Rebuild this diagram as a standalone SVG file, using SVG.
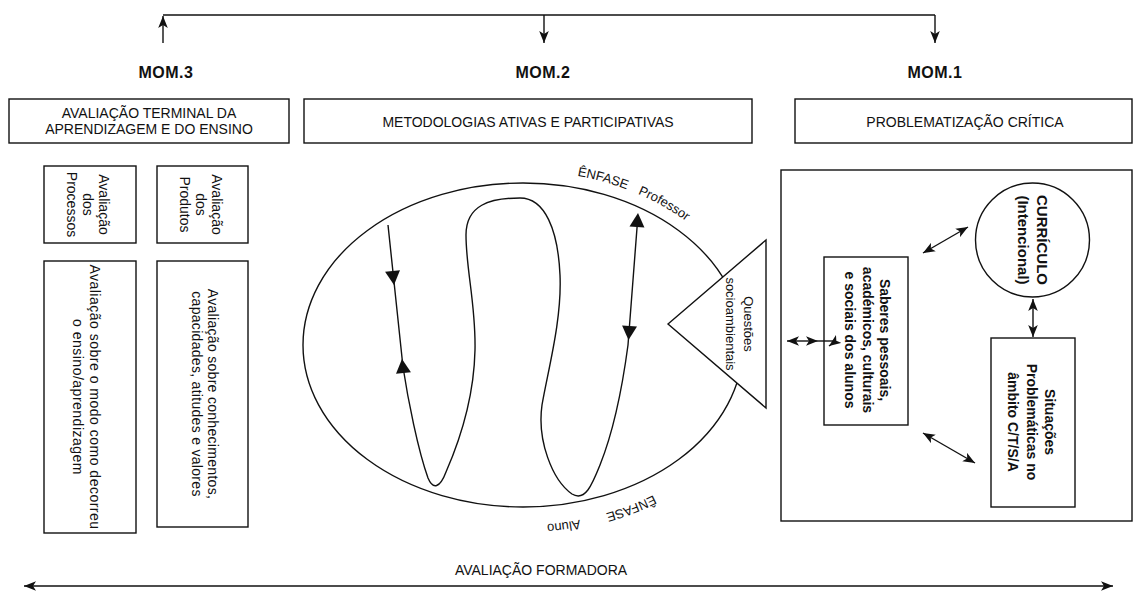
<svg xmlns="http://www.w3.org/2000/svg" width="1134" height="591" viewBox="0 0 1134 591">
<style>
.box{fill:#fff;stroke:#111;stroke-width:1.4}
.frame{fill:none;stroke:#111;stroke-width:1.4}
.ln{fill:none;stroke:#111;stroke-width:1.4}
.tri{fill:#fff;stroke:#111;stroke-width:1.4}
.t{font-family:"Liberation Sans",Arial,sans-serif;fill:#111}
.h{font-size:14px}
.mom{font-size:16px;font-weight:bold;letter-spacing:0.5px}
.r14{font-size:14px}
.r13{font-size:13px}
.b14{font-size:14px;font-weight:bold}
.b15{font-size:15px;font-weight:bold}
</style>
<defs>
<marker id="a" viewBox="0 0 10 8" refX="10" refY="4" markerWidth="12" markerHeight="10" markerUnits="userSpaceOnUse" orient="auto-start-reverse">
<path d="M0,0 L10,4 L0,8 L2.5,4 Z" fill="#111"/>
</marker>
<path id="bh" d="M0,0 L-14,-7.5 L-14,7.5 Z" fill="#111"/>
<path id="topArc" d="M291,345 A232,174 0 0 1 755,345"/>
<path id="botArc" d="M759,345 A236,180 0 0 1 287,345"/>
</defs>
<rect width="1134" height="591" fill="#fff"/>

<g id="mom3"><text class="t mom" x="166" y="78" text-anchor="middle">MOM.3</text></g>
<g id="mom2"><text class="t mom" x="543" y="78" text-anchor="middle">MOM.2</text></g>
<g id="mom1"><text class="t mom" x="935" y="78" text-anchor="middle">MOM.1</text></g>

<g id="hdr-avaliacao">
<rect class="box" x="9" y="99" width="280" height="44"/>
<text class="t h" text-anchor="middle"><tspan x="149" y="118">AVALIAÇÃO TERMINAL DA</tspan><tspan x="149" y="134">APRENDIZAGEM E DO ENSINO</tspan></text>
</g>
<g id="hdr-metodologias">
<rect class="box" x="304" y="99" width="448" height="44"/>
<text class="t h" x="528" y="127" text-anchor="middle">METODOLOGIAS ATIVAS E PARTICIPATIVAS</text>
</g>
<g id="hdr-problematizacao">
<rect class="box" x="795" y="99" width="337" height="44"/>
<text class="t h" x="965" y="127" text-anchor="middle">PROBLEMATIZAÇÃO CRÍTICA</text>
</g>

<g id="av-processos">
<rect class="box" x="44" y="166" width="92" height="77"/>
<text class="t r14" transform="translate(90,204.5) rotate(90)" text-anchor="middle"><tspan x="0" y="-9">Avaliação</tspan><tspan x="0" y="7">dos</tspan><tspan x="0" y="23">Processos</tspan></text>
</g>
<g id="av-produtos">
<rect class="box" x="157" y="166" width="91" height="77"/>
<text class="t r14" transform="translate(202.5,204.5) rotate(90)" text-anchor="middle"><tspan x="0" y="-9">Avaliação</tspan><tspan x="0" y="7">dos</tspan><tspan x="0" y="23">Produtos</tspan></text>
</g>
<g id="av-modo">
<rect class="box" x="44" y="261" width="92" height="272"/>
<text class="t r14" transform="translate(90,397) rotate(90)" text-anchor="middle" letter-spacing="0.5"><tspan x="0" y="0">Avaliação sobre o modo como decorreu</tspan><tspan x="0" y="17">o ensino/aprendizagem</tspan></text>
</g>
<g id="av-conhecimentos">
<rect class="box" x="157" y="261" width="91" height="266"/>
<text class="t r14" transform="translate(202.5,394) rotate(90)" text-anchor="middle" letter-spacing="0.3"><tspan x="0" y="-5.5">Avaliação sobre conhecimentos,</tspan><tspan x="0" y="10.5">capacidades, atitudes e valores</tspan></text>
</g>

<g id="peixe">
<ellipse class="ln" cx="523" cy="345" rx="220" ry="162"/>
<path class="ln" d="M388,225 L403,367 C408,400 418,450 428,478 C433,490 440,488 446,472 C460,440 474,395 475,350 C476,305 466,270 466,235 C466,205 490,198 520,198 C545,198 558,230 560,275 C562,320 548,370 542,405 C537,440 552,480 572,494 C585,502 592,485 600,465 C612,435 622,390 628,345 L638,215"/>
<use href="#bh" transform="translate(394,285) rotate(84)"/>
<use href="#bh" transform="translate(402,359) rotate(-96)"/>
<use href="#bh" transform="translate(628.5,340) rotate(94.3)"/>
<use href="#bh" transform="translate(638,213) rotate(-85.7)"/>
<text class="t r13"><textPath href="#topArc" startOffset="375">ÊNFASE</textPath></text>
<text class="t r13"><textPath href="#topArc" startOffset="438">Professor</textPath></text>
<text class="t r13"><textPath href="#botArc" startOffset="193">ÊNFASE</textPath></text>
<text class="t r13"><textPath href="#botArc" startOffset="271">Aluno</textPath></text>
</g>
<g id="questoes">
<path class="tri" d="M668,324 L766,240 L766,408 Z"/>
<text class="t r13" transform="translate(739,324) rotate(90)" text-anchor="middle"><tspan x="0" y="-4.5">Questões</tspan><tspan x="0" y="13.5">socioambientais</tspan></text>
</g>

<g id="problematizacao-area">
<rect class="frame" x="781" y="170" width="351" height="351"/>
</g>
<g id="curriculo">
<circle class="box" cx="1032.5" cy="240" r="57"/>
<text class="t b15" transform="translate(1032.5,240) rotate(90)" text-anchor="middle"><tspan x="0" y="-4">CURRÍCULO</tspan><tspan x="0" y="15">(Intencional)</tspan></text>
</g>
<g id="saberes">
<rect class="box" x="824" y="257" width="84" height="168"/>
<text class="t b14" transform="translate(866,340) rotate(90)" text-anchor="middle"><tspan x="0" y="-14">Saberes pessoais,</tspan><tspan x="0" y="3.5">académicos, culturais</tspan><tspan x="0" y="21">e sociais dos alunos</tspan></text>
</g>
<g id="situacoes">
<rect class="box" x="991" y="338" width="84" height="169"/>
<text class="t b14" transform="translate(1033,422) rotate(90)" text-anchor="middle"><tspan x="0" y="-12">Situações</tspan><tspan x="0" y="6">Problemáticas no</tspan><tspan x="0" y="25">âmbito C/T/S/A</tspan></text>
</g>

<g id="avaliacao-formadora">
<text class="t r14" x="541" y="575" text-anchor="middle">AVALIAÇÃO FORMADORA</text>
</g>

<g id="connectors">
<path class="ln" d="M163,15 L935,15"/>
<path class="ln" d="M163,43 L163,16" marker-end="url(#a)"/>
<path class="ln" d="M544,15 L544,43" marker-end="url(#a)"/>
<path class="ln" d="M935,15 L935,43" marker-end="url(#a)"/>
<path class="ln" d="M24,586 L1113,586" marker-start="url(#a)" marker-end="url(#a)"/>
<path class="ln" d="M923,253 L968,227" marker-start="url(#a)" marker-end="url(#a)"/>
<path class="ln" d="M1033,299 L1033,337" marker-start="url(#a)" marker-end="url(#a)"/>
<path class="ln" d="M923,433 L975,463" marker-start="url(#a)" marker-end="url(#a)"/>
<path class="ln" d="M787,341 L818,341" marker-start="url(#a)" marker-end="url(#a)"/>
<path class="ln" d="M818,341 L836,341"/>
<path class="ln" d="M836,341 L829,346" marker-end="url(#a)"/>
</g>
</svg>
